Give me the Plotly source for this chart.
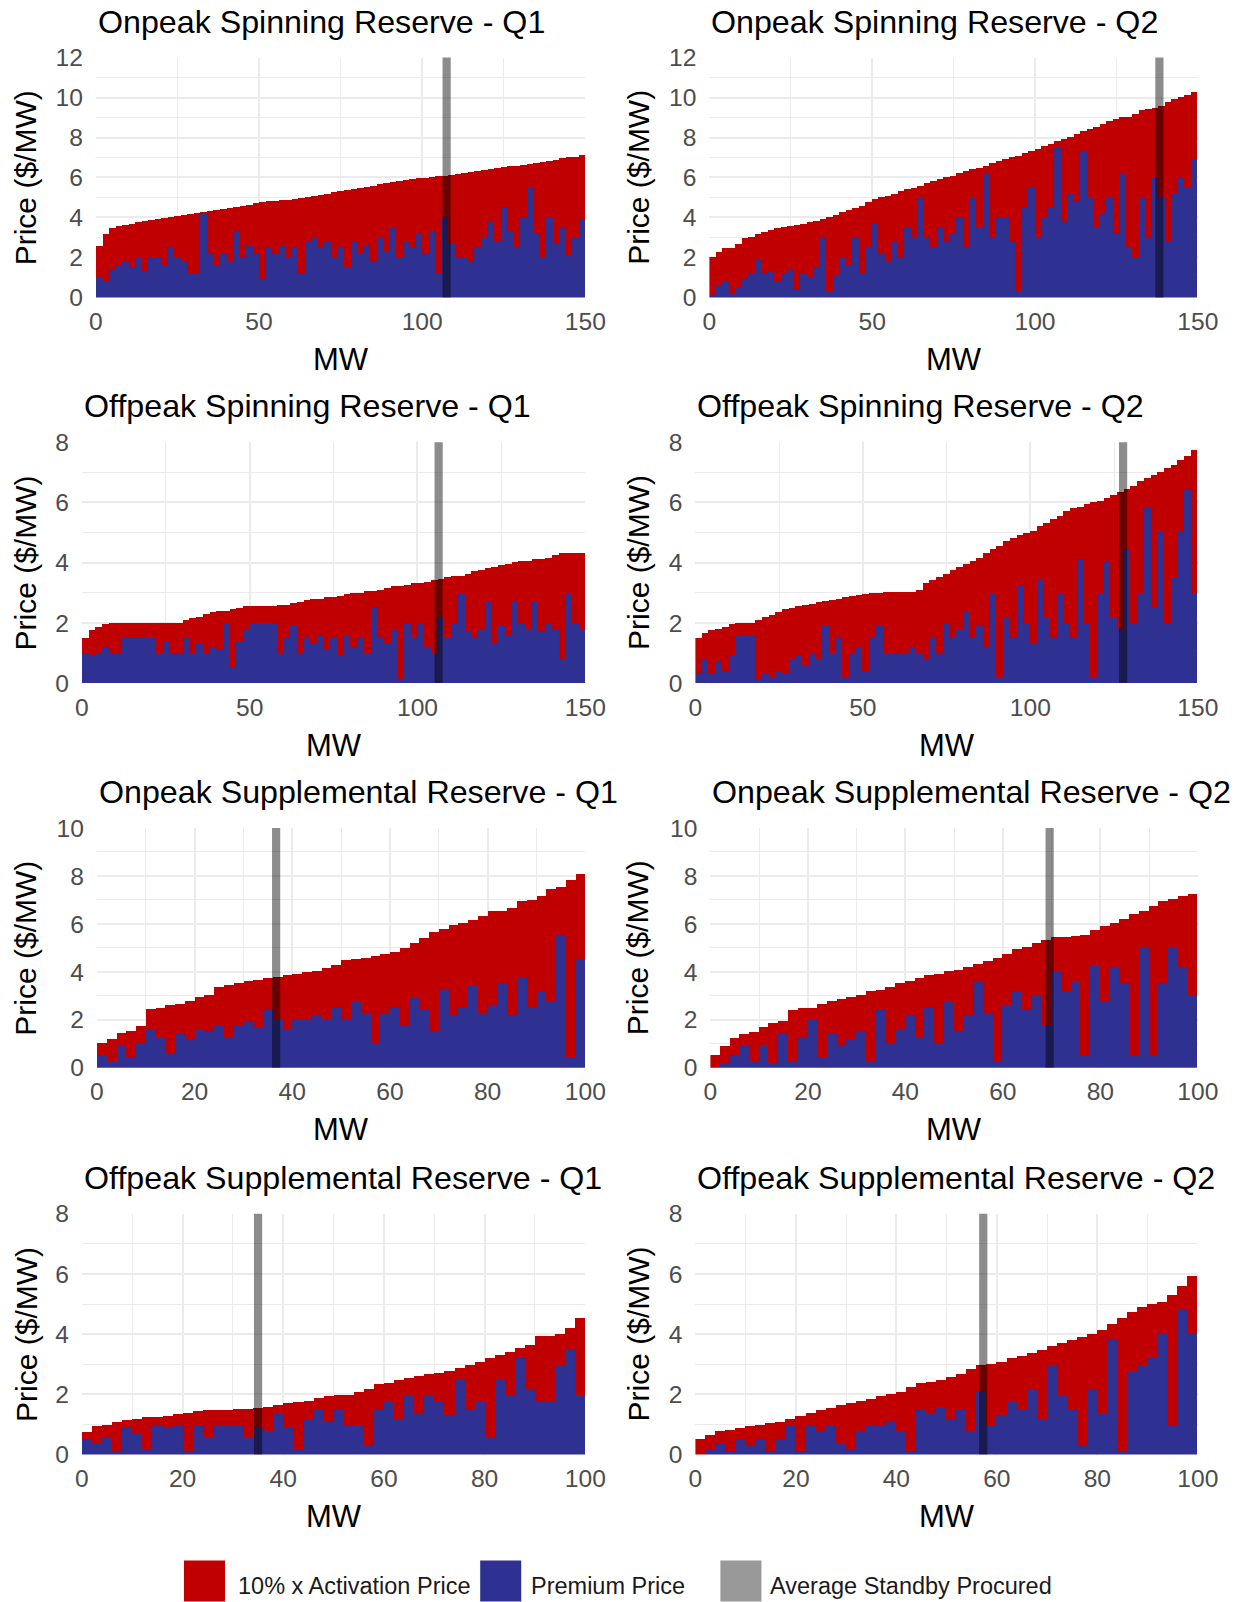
import plotly.graph_objects as go

# ---------------- data ----------------
titles = [
    "Onpeak Spinning Reserve - Q1", "Onpeak Spinning Reserve - Q2",
    "Offpeak Spinning Reserve - Q1", "Offpeak Spinning Reserve - Q2",
    "Onpeak Supplemental Reserve - Q1", "Onpeak Supplemental Reserve - Q2",
    "Offpeak Supplemental Reserve - Q1", "Offpeak Supplemental Reserve - Q2",
]
bin_mw = 2  # each bar covers 2 MW of offered capacity

on_spin_q1_total = [2.6, 3.2, 3.5, 3.6, 3.65, 3.7, 3.8, 3.85, 3.9, 3.95,
                    4.0, 4.05, 4.1, 4.15, 4.2, 4.25, 4.3, 4.35, 4.4, 4.45,
                    4.5, 4.55, 4.6, 4.65, 4.75, 4.8, 4.85, 4.85, 4.9, 4.9,
                    4.95, 5.0, 5.05, 5.1, 5.15, 5.2, 5.3, 5.35, 5.4, 5.45,
                    5.5, 5.55, 5.6, 5.7, 5.75, 5.8, 5.85, 5.9, 5.95, 6.0,
                    6.0, 6.05, 6.1, 6.1, 6.15, 6.2, 6.25, 6.3, 6.35, 6.4,
                    6.45, 6.5, 6.55, 6.6, 6.6, 6.65, 6.7, 6.75, 6.8, 6.85,
                    6.9, 7.0, 7.05, 7.05, 7.15]
on_spin_q1_premium = [1.0, 0.8, 1.4, 1.6, 1.8, 1.5, 2.0, 1.3, 2.0, 2.0,
                      1.6, 2.5, 2.0, 1.8, 1.2, 1.2, 4.2, 2.2, 1.6, 2.2,
                      1.8, 3.3, 2.0, 2.6, 2.2, 0.9, 2.5, 2.2, 2.6, 2.0,
                      2.5, 1.2, 2.8, 3.0, 2.5, 2.8, 2.0, 2.5, 1.5, 2.8,
                      2.2, 2.6, 1.8, 3.0, 2.3, 3.5, 2.0, 2.8, 2.5, 3.2,
                      2.2, 3.3, 1.2, 4.0, 2.7, 2.0, 2.0, 1.8, 2.5, 3.0,
                      3.8, 2.8, 4.5, 3.3, 2.5, 4.0, 5.5, 3.2, 2.0, 4.0,
                      2.7, 3.5, 2.1, 3.0, 3.9]

on_spin_q2_total = [2.05, 2.3, 2.5, 2.5, 2.7, 3.0, 3.05, 3.2, 3.3, 3.4,
                    3.5, 3.55, 3.6, 3.65, 3.7, 3.8, 3.85, 3.95, 4.05, 4.15,
                    4.3, 4.4, 4.5, 4.6, 4.8, 4.95, 5.05, 5.1, 5.2, 5.35,
                    5.45, 5.5, 5.6, 5.75, 5.85, 5.95, 6.05, 6.1, 6.25, 6.35,
                    6.45, 6.5, 6.6, 6.75, 6.85, 6.95, 7.05, 7.1, 7.25, 7.35,
                    7.45, 7.6, 7.7, 7.85, 7.95, 8.05, 8.2, 8.35, 8.45, 8.55,
                    8.7, 8.85, 8.95, 9.05, 9.05, 9.2, 9.4, 9.45, 9.5, 9.6,
                    9.8, 9.95, 10.05, 10.15, 10.3]
on_spin_q2_premium = [0.1, 0.6, 0.8, 0.2, 0.5, 0.9, 1.2, 1.9, 1.2, 1.3,
                      0.8, 1.2, 1.4, 0.4, 1.2, 1.0, 1.5, 3.0, 0.3, 1.1,
                      2.0, 1.6, 3.0, 1.2, 2.5, 3.7, 2.2, 1.8, 2.8, 2.0,
                      3.5, 3.0, 5.0, 3.0, 2.5, 3.5, 2.8, 3.2, 4.0, 2.5,
                      5.0, 3.5, 6.2, 3.0, 4.0, 4.0, 2.8, 0.3, 4.5, 5.5,
                      3.0, 4.0, 4.5, 7.5, 3.8, 5.2, 4.8, 7.3, 5.0, 3.5,
                      4.2, 5.0, 3.2, 6.2, 2.5, 2.0, 5.0, 3.0, 6.0, 5.0,
                      2.8, 5.2, 6.0, 5.5, 6.9]

off_spin_q1_total = [1.5, 1.75, 1.85, 1.95, 1.98, 2.0, 2.0, 2.0, 2.0, 2.0,
                     2.0, 2.0, 2.0, 2.0, 2.0, 2.1, 2.15, 2.2, 2.3, 2.35,
                     2.4, 2.4, 2.45, 2.5, 2.55, 2.55, 2.55, 2.55, 2.55, 2.6,
                     2.6, 2.65, 2.7, 2.75, 2.8, 2.8, 2.85, 2.85, 2.9, 2.95,
                     3.0, 3.0, 3.05, 3.05, 3.1, 3.15, 3.2, 3.2, 3.25, 3.3,
                     3.3, 3.35, 3.4, 3.45, 3.5, 3.55, 3.55, 3.6, 3.7, 3.75,
                     3.8, 3.85, 3.9, 3.95, 4.0, 4.05, 4.05, 4.1, 4.1, 4.15,
                     4.25, 4.3, 4.3, 4.3, 4.3]
off_spin_q1_premium = [1.0, 0.9, 1.0, 1.2, 1.0, 1.0, 1.5, 1.5, 1.5, 1.5,
                       1.5, 1.0, 1.4, 1.0, 1.0, 1.5, 1.0, 1.3, 1.0, 1.2,
                       1.1, 2.0, 0.5, 1.4, 1.8, 2.0, 2.0, 2.0, 2.0, 1.0,
                       1.5, 1.9, 1.0, 1.5, 1.3, 1.6, 1.1, 1.5, 0.9, 1.6,
                       1.2, 1.5, 1.0, 2.5, 1.5, 1.3, 1.8, 0.1, 2.0, 1.5,
                       2.0, 1.2, 1.0, 2.2, 1.5, 2.0, 3.0, 1.7, 1.5, 1.8,
                       2.7, 1.3, 1.9, 1.6, 2.7, 2.0, 1.8, 2.7, 1.7, 2.0,
                       1.8, 0.8, 3.0, 2.0, 1.8]

off_spin_q2_total = [1.5, 1.65, 1.75, 1.78, 1.85, 1.95, 2.0, 2.0, 2.0, 2.1,
                     2.2, 2.25, 2.35, 2.45, 2.5, 2.55, 2.6, 2.62, 2.67, 2.72,
                     2.75, 2.8, 2.85, 2.88, 2.93, 2.95, 3.0, 3.0, 3.02, 3.02,
                     3.02, 3.02, 3.02, 3.1, 3.3, 3.4, 3.5, 3.6, 3.75, 3.85,
                     3.95, 4.05, 4.15, 4.3, 4.45, 4.55, 4.7, 4.8, 4.9, 4.98,
                     5.05, 5.2, 5.3, 5.45, 5.55, 5.7, 5.8, 5.85, 5.95, 6.0,
                     6.05, 6.15, 6.25, 6.35, 6.45, 6.55, 6.7, 6.8, 6.9, 7.0,
                     7.15, 7.25, 7.4, 7.55, 7.75]
off_spin_q2_premium = [0.3, 0.8, 0.3, 0.7, 0.4, 0.9, 1.55, 1.55, 1.55, 0.1,
                       0.3, 0.2, 0.4, 0.3, 0.8, 0.9, 0.6, 1.0, 0.8, 1.9,
                       1.0, 1.5, 0.2, 1.0, 1.2, 0.4, 1.5, 1.9, 1.0, 1.0,
                       1.0, 1.0, 1.2, 1.0, 0.8, 1.5, 1.0, 2.0, 1.5, 1.8,
                       2.4, 1.5, 1.9, 1.2, 3.0, 0.2, 2.2, 1.5, 3.2, 2.0,
                       1.3, 3.4, 2.2, 1.5, 3.0, 2.0, 1.5, 4.1, 2.0, 0.2,
                       3.0, 4.0, 2.2, 1.8, 4.4, 2.0, 3.0, 5.8, 2.5, 5.0,
                       2.0, 3.5, 5.0, 6.4, 3.0]

on_supp_q1_total = [1.05, 1.2, 1.45, 1.55, 1.75, 2.45, 2.5, 2.6, 2.65, 2.8,
                    2.95, 3.05, 3.35, 3.45, 3.55, 3.6, 3.65, 3.75, 3.8, 3.85,
                    3.9, 4.0, 4.05, 4.15, 4.3, 4.5, 4.55, 4.6, 4.65, 4.75,
                    4.85, 5.0, 5.2, 5.4, 5.65, 5.8, 5.95, 6.05, 6.15, 6.35,
                    6.55, 6.55, 6.65, 6.95, 7.0, 7.15, 7.45, 7.55, 7.85, 8.1]
on_supp_q1_premium = [0.55, 0.3, 0.9, 0.4, 1.0, 1.6, 1.3, 0.6, 1.4, 1.2,
                      1.6, 1.5, 1.8, 1.3, 1.8, 1.9, 1.7, 2.4, 2.0, 1.6,
                      2.0, 2.0, 2.2, 2.0, 2.5, 2.0, 2.8, 2.3, 1.0, 2.3,
                      2.5, 1.8, 2.9, 2.4, 1.5, 3.3, 2.2, 2.5, 3.4, 2.3,
                      2.6, 3.5, 2.2, 3.8, 2.5, 3.2, 2.8, 5.5, 0.4, 4.5]

on_supp_q2_total = [0.55, 0.9, 1.25, 1.42, 1.5, 1.7, 1.85, 1.95, 2.4, 2.5,
                    2.5, 2.65, 2.8, 2.85, 2.95, 3.05, 3.2, 3.25, 3.35, 3.55,
                    3.6, 3.75, 3.85, 3.9, 4.05, 4.1, 4.2, 4.35, 4.45, 4.6,
                    4.75, 4.95, 5.05, 5.2, 5.35, 5.45, 5.45, 5.5, 5.55, 5.75,
                    5.9, 6.05, 6.2, 6.4, 6.55, 6.75, 6.95, 7.05, 7.15, 7.25]
on_supp_q2_premium = [0.0, 0.2, 0.5, 0.9, 0.3, 0.9, 0.2, 1.4, 0.3, 1.3,
                      2.0, 0.4, 1.4, 0.9, 1.2, 1.5, 0.3, 2.4, 1.0, 1.6,
                      2.2, 1.3, 2.5, 1.0, 2.8, 1.5, 2.2, 3.6, 2.3, 0.3,
                      2.6, 3.2, 2.4, 3.0, 1.8, 4.0, 3.2, 3.6, 0.5, 4.3,
                      2.8, 4.2, 3.5, 0.5, 5.0, 0.5, 3.5, 5.0, 4.2, 3.0]

off_supp_q1_total = [0.75, 0.95, 1.0, 1.1, 1.15, 1.2, 1.25, 1.27, 1.3, 1.35,
                     1.4, 1.45, 1.5, 1.5, 1.5, 1.52, 1.52, 1.55, 1.6, 1.65,
                     1.72, 1.75, 1.8, 1.88, 1.95, 1.98, 2.0, 2.1, 2.2, 2.35,
                     2.4, 2.5, 2.55, 2.62, 2.7, 2.72, 2.8, 2.9, 3.0, 3.1,
                     3.2, 3.3, 3.4, 3.55, 3.65, 3.95, 3.95, 4.0, 4.2, 4.55]
off_supp_q1_premium = [0.5, 0.4, 0.6, 0.1, 0.9, 0.7, 0.2, 1.0, 0.9, 1.0,
                       0.1, 1.0, 0.6, 1.0, 1.0, 1.0, 0.6, 0.9, 0.8, 1.4,
                       0.9, 0.2, 1.2, 1.5, 1.1, 1.5, 1.0, 1.0, 0.3, 1.5,
                       1.8, 1.2, 2.0, 1.4, 2.0, 1.8, 1.3, 2.5, 1.5, 1.8,
                       0.6, 2.5, 2.0, 3.2, 2.2, 1.8, 1.8, 3.0, 3.5, 2.0]

off_supp_q2_total = [0.52, 0.65, 0.78, 0.82, 0.9, 0.97, 1.0, 1.05, 1.1, 1.2,
                     1.3, 1.4, 1.5, 1.55, 1.65, 1.72, 1.78, 1.85, 1.95, 2.02,
                     2.1, 2.25, 2.38, 2.42, 2.5, 2.57, 2.68, 2.85, 2.97, 3.02,
                     3.08, 3.2, 3.27, 3.38, 3.48, 3.6, 3.7, 3.8, 3.9, 4.0,
                     4.15, 4.35, 4.55, 4.75, 4.9, 5.0, 5.08, 5.3, 5.6, 5.95]
off_supp_q2_premium = [0.0, 0.2, 0.4, 0.1, 0.5, 0.3, 0.5, 0.1, 0.5, 1.0,
                       0.1, 1.0, 0.8, 1.0, 0.4, 0.2, 0.8, 1.0, 1.0, 1.1,
                       0.8, 0.1, 1.5, 1.4, 1.6, 1.2, 1.5, 0.8, 2.1, 1.0,
                       1.3, 1.8, 1.5, 2.2, 1.2, 3.0, 2.0, 1.5, 0.3, 2.2,
                       1.4, 3.8, 0.1, 2.8, 3.0, 3.2, 4.0, 1.0, 4.8, 4.0]

standby_mw = [107.5, 138.2, 106.3, 127.7, 36.7, 69.6, 35.0, 57.3]
x_max = [150, 150, 150, 150, 100, 100, 100, 100]
y_max = [12, 12, 8, 8, 10, 10, 8, 8]
x_tick_step = [50, 50, 50, 50, 20, 20, 20, 20]

totals = [on_spin_q1_total, on_spin_q2_total, off_spin_q1_total, off_spin_q2_total,
          on_supp_q1_total, on_supp_q2_total, off_supp_q1_total, off_supp_q2_total]
premiums = [on_spin_q1_premium, on_spin_q2_premium, off_spin_q1_premium, off_spin_q2_premium,
            on_supp_q1_premium, on_supp_q2_premium, off_supp_q1_premium, off_supp_q2_premium]

legend_labels = ["10% x Activation Price", "Premium Price", "Average Standby Procured"]

# ---------------- style / layout ----------------
# the captured page comes out offset and slightly scaled; these factors map a
# wanted position in the final picture back to figure pixels
OFF_X, OFF_Y = 7.2, 12.4
SX, SY = 0.977, 0.984
W, H = 1263, 1615
RED = "#C00000"
BLUE = "#2E3192"
GRID = "#EBEBEB"
FONT = "Liberation Sans, Arial, sans-serif"


def px(x):   # wanted picture pixel -> paper x
    return (x - OFF_X) / SX / W


def py(y):   # wanted picture pixel -> paper y
    return 1 - (y - OFF_Y) / SY / H


# panel plot-area boxes in picture pixels (left, right, top, bottom)
boxes = [
    (96, 585, 57, 297), (709, 1197, 57, 297),
    (82, 585, 442, 683), (695, 1197, 442, 683),
    (97, 585, 828, 1068), (710, 1197, 828, 1068),
    (82, 585, 1214, 1455), (695, 1197, 1214, 1455),
]

fig = go.Figure()
annotations = []
shapes = []
layout_axes = {}

for i in range(8):
    n = i + 1
    suffix = "" if n == 1 else str(n)
    xa, ya = "x" + suffix, "y" + suffix
    tot, prem = totals[i], premiums[i]
    centers = [bin_mw * k + bin_mw / 2 for k in range(len(tot))]
    activation = [round(t - p, 3) for t, p in zip(tot, prem)]

    fig.add_trace(go.Bar(x=centers, y=prem, width=bin_mw, marker=dict(color=BLUE, line=dict(width=0)),
                         name=legend_labels[1], showlegend=False, xaxis=xa, yaxis=ya,
                         hovertemplate="%{x} MW<br>Premium: %{y}<extra></extra>"))
    fig.add_trace(go.Bar(x=centers, y=activation, width=bin_mw, marker=dict(color=RED, line=dict(width=0)),
                         name=legend_labels[0], showlegend=False, xaxis=xa, yaxis=ya,
                         hovertemplate="%{x} MW<br>10% Activation: %{y}<extra></extra>"))

    l, r, t, b = boxes[i]
    layout_axes["xaxis" + suffix] = dict(
        domain=[px(l), px(r)], anchor=ya, range=[0, x_max[i]],
        tick0=0, dtick=x_tick_step[i],
        showgrid=True, gridcolor=GRID, gridwidth=1.6,
        minor=dict(dtick=x_tick_step[i] / 2, showgrid=True, gridcolor=GRID, gridwidth=1.2),
        zeroline=False, showline=False,
        ticks="outside", ticklen=2, tickcolor="rgba(0,0,0,0)",
        tickfont=dict(family=FONT, size=24.6, color="#4D4D4D"),
        fixedrange=True,
    )
    layout_axes["yaxis" + suffix] = dict(
        domain=[py(b), py(t)], anchor=xa, range=[0, y_max[i]],
        tick0=0, dtick=2,
        showgrid=True, gridcolor=GRID, gridwidth=1.6,
        minor=dict(dtick=1, showgrid=True, gridcolor=GRID, gridwidth=1.2),
        zeroline=False, showline=False,
        ticks="outside", ticklen=7, tickcolor="rgba(0,0,0,0)",
        tickfont=dict(family=FONT, size=24.6, color="#4D4D4D"),
        fixedrange=True,
    )

    # average standby procured band
    shapes.append(dict(type="line", xref=xa, yref=ya + " domain",
                       x0=standby_mw[i], x1=standby_mw[i], y0=0, y1=1,
                       line=dict(color="rgba(0,0,0,0.45)", width=8.2), layer="above"))

    # panel title
    annotations.append(dict(text=titles[i], x=px(l), y=py(t - 36), xref="paper", yref="paper",
                            xanchor="left", yanchor="middle", showarrow=False,
                            font=dict(family=FONT, size=32.2, color="#000000")))
    # x-axis title
    annotations.append(dict(text="MW", x=px((l + r) / 2), y=py(b + 62), xref="paper", yref="paper",
                            xanchor="center", yanchor="middle", showarrow=False,
                            font=dict(family=FONT, size=31, color="#000000")))
    # y-axis title
    yt_x = 26 if i % 2 == 0 else 638
    annotations.append(dict(text="Price ($/MW)", x=px(yt_x), y=py((t + b) / 2), xref="paper", yref="paper",
                            xanchor="center", yanchor="middle", textangle=-90, showarrow=False,
                            font=dict(family=FONT, size=30, color="#000000")))

# legend at the bottom (colour keys + labels)
legend_items = [(legend_labels[0], RED, 184, 236), (legend_labels[1], BLUE, 480, 529),
                (legend_labels[2], "#999999", 720, 768)]
for label, color, sx, tx in legend_items:
    shapes.append(dict(type="rect", xref="paper", yref="paper",
                       x0=px(sx), x1=px(sx + 41), y0=min(0, py(1602)), y1=py(1561),
                       fillcolor=color, line=dict(width=0), layer="above"))
    annotations.append(dict(text=label, x=px(tx), y=py(1587), xref="paper", yref="paper",
                            xanchor="left", yanchor="middle", showarrow=False,
                            font=dict(family=FONT, size=23.5, color="#1A1A1A")))

fig.update_layout(
    width=W, height=H, margin=dict(l=0, r=0, t=0, b=0),
    paper_bgcolor="white", plot_bgcolor="white",
    barmode="stack", bargap=0, showlegend=False,
    annotations=annotations, shapes=shapes,
    font=dict(family=FONT),
    **layout_axes,
)

fig.write_html("out.html")
